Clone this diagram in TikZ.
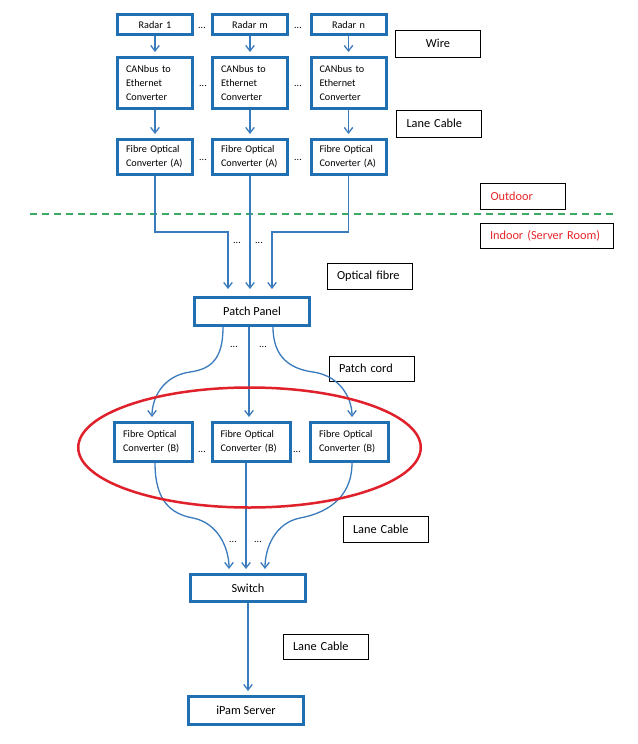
\documentclass[tikz,border=0pt]{standalone}
\usepackage{fontspec}
\setmainfont{Carlito}
\usetikzlibrary{arrows.meta,calc,shapes.geometric}
\definecolor{boxblue}{HTML}{1F6FB2}
\definecolor{lineblue}{HTML}{3A7BBE}
\definecolor{ringred}{HTML}{E0202A}
\definecolor{zonegreen}{HTML}{3DAA62}
\definecolor{zonered}{HTML}{E8262B}
\begin{document}
\begin{tikzpicture}[x=1pt,y=-1pt,
  bluebox/.style={draw=boxblue,line width=3pt,fill=white,inner ysep=0pt,inner xsep=8.5pt,align=left},
  smallbox/.style={bluebox,font=\fontsize{10.2}{14.3}\selectfont,text width=58pt,minimum width=75pt},
  bbox/.style={bluebox,font=\fontsize{10.2}{14.3}\selectfont,text width=61pt,minimum width=78pt,minimum height=39pt},
  bigbox/.style={bluebox,font=\fontsize{12.3}{15}\selectfont,minimum width=115pt,minimum height=28pt,align=center},
  tag/.style={draw=black,line width=0.9pt,fill=white,inner xsep=10pt,inner ysep=0pt,font=\fontsize{12.3}{15}\selectfont,align=left,text width=65pt,minimum height=26pt},
  arr/.style={draw=lineblue,line width=1.3pt,-{Straight Barb[length=5.5pt,width=8.5pt]},shorten >=4pt},
  dotsn/.style={font=\fontsize{10}{12}\selectfont,inner sep=0pt,anchor=base}
]
\path[fill=white,use as bounding box] (0,0) rectangle (637,744);

% zone line
\coordinate (gl) at (30,214);
\coordinate (gr) at (615,214);
\draw[zonegreen,line width=2pt,dash pattern=on 7pt off 5pt] (gl) -- (gr);

% top rows
\node[smallbox,align=center,minimum height=20pt] (r1) at (155,24.5) {Radar 1};
\node[smallbox,align=center,minimum height=20pt] (r2) at (250,24.5) {Radar m};
\node[smallbox,align=center,minimum height=20pt] (r3) at (348.5,24.5) {Radar n};
\node[smallbox,minimum height=51pt] (c1) at (155,83) {CANbus to\\Ethernet\\Converter};
\node[smallbox,minimum height=51pt] (c2) at (250,83) {CANbus to\\Ethernet\\Converter};
\node[smallbox,minimum height=51pt] (c3) at (348.5,83) {CANbus to\\Ethernet\\Converter};
\node[smallbox,minimum height=35pt] (a1) at (155,157) {Fibre Optical\\Converter (A)};
\node[smallbox,minimum height=35pt] (a2) at (250,157) {Fibre Optical\\Converter (A)};
\node[smallbox,minimum height=35pt] (a3) at (348.5,157) {Fibre Optical\\Converter (A)};

\node[bigbox] (pp) at (252,311.5) {Patch Panel};
\node[bbox] (fb1) at (153.5,442) {Fibre Optical\\Converter (B)};
\node[bbox] (fb2) at (251,442) {Fibre Optical\\Converter (B)};
\node[bbox] (fb3) at (349.5,442) {Fibre Optical\\Converter (B)};
\node[bigbox,minimum height=27pt] (sw) at (248,588) {Switch};
\node[bigbox] (ip) at (246,710.5) {iPam Server};

% labels
\node[tag,align=center,minimum height=27pt] (wire) at (438,43.5) {Wire};
\node[tag,minimum height=27pt] (lc1) at (439,123.5) {Lane Cable};
\node[tag,text=zonered] (outd) at (523,196) {Outdoor};
\node[tag,text=zonered,text width=113pt,minimum height=25pt] (ind) at (546.5,235.5) {Indoor (Server Room)};
\node[tag] (of) at (369.5,276) {Optical fibre};
\node[tag,minimum height=25pt] (pc) at (371.5,368.5) {Patch cord};
\node[tag] (lc2) at (385.5,529) {Lane Cable};
\node[tag,minimum height=25pt] (lc3) at (325.5,646.5) {Lane Cable};

% dots
\node[dotsn] (dr1) at (202,28) {...};
\node[dotsn] (dr2) at (298,28) {...};
\node[dotsn] (dc1) at (203,86) {...};
\node[dotsn] (dc2) at (298,86) {...};
\node[dotsn] (da1) at (203,160) {...};
\node[dotsn] (da2) at (298,160) {...};
\node[dotsn] (df1) at (237,243) {...};
\node[dotsn] (df2) at (259,243) {...};
\node[dotsn] (dp1) at (234,347) {...};
\node[dotsn] (dp2) at (263,347) {...};
\node[dotsn] (db1) at (202,452) {...};
\node[dotsn] (db2) at (297,452) {...};
\node[dotsn] (dl1) at (233,542) {...};
\node[dotsn] (dl2) at (258,542) {...};

% connectors top
\foreach \i in {1,2,3}{
  \draw[arr] (r\i.south) -- (c\i.north);
  \draw[arr] (c\i.south) -- (a\i.north);
}
\coordinate (fbend) at (250,232);
\draw[arr,shorten >=7pt] (a1.south) -- (a1.south |- fbend) -| ($(pp.north)+(-24,0)$);
\draw[arr,shorten >=7pt] (a2.south) -- (a2.south |- pp.north);
\draw[arr,shorten >=7pt] (a3.south) -- (a3.south |- fbend) -| ($(pp.north)+(20,0)$);

% patch cords
\coordinate (pcl) at (190,372);
\coordinate (pcr) at (313,372);
\draw[arr] ($(pp.south)+(-29,0)$) .. controls +(0,31) and +(22,-3) .. (pcl)
  .. controls +(-28,4) and +(0,-22) .. ($(fb1.north)+(-1.5,0)$);
\draw[arr] ($(pp.south)+(-3,0)$) -- ($(fb2.north)+(-2,0)$);
\draw[arr] ($(pp.south)+(21,0)$) .. controls +(0,31) and +(-22,-3) .. (pcr)
  .. controls +(28,4) and +(0,-22) .. ($(fb3.north)+(2.5,0)$);

% lane cables to switch
\coordinate (lll) at (193,518);
\coordinate (llr) at (300,518);
\draw[arr] ($(fb1.south)+(1.5,0)$) .. controls +(0,38) and +(-22,-4) .. (lll)
  .. controls +(25,5) and +(0,-25) .. ($(sw.north)+(-19,0)$);
\draw[arr] ($(fb2.south)+(-5,0)$) -- ($(sw.north)+(-2,0)$);
\draw[arr] ($(fb3.south)+(2.5,0)$) .. controls +(0,38) and +(22,-4) .. (llr)
  .. controls +(-25,5) and +(0,-25) .. ($(sw.north)+(17,0)$);
\draw[arr] (sw.south) -- (sw.south |- ip.north);

% red ring
\node[draw=ringred,line width=2.5pt,ellipse,minimum width=342.5pt,minimum height=120pt,inner sep=0pt] (ring) at (249.5,447.5) {};
\end{tikzpicture}
\end{document}
